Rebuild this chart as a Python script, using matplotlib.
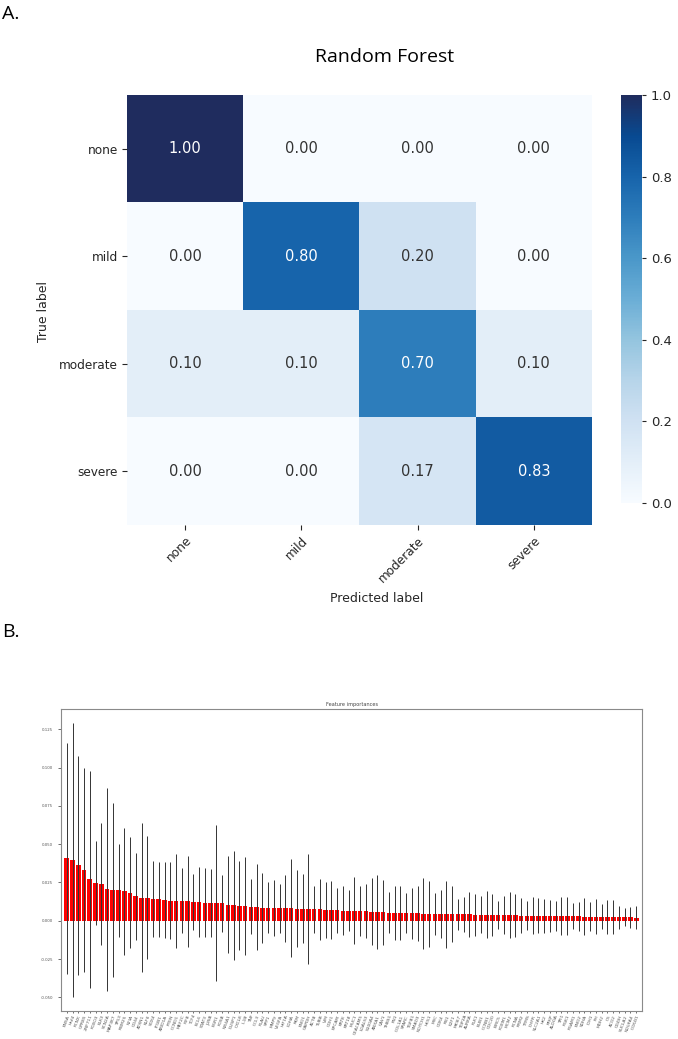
import numpy as np
import matplotlib
matplotlib.use("Agg")
import matplotlib.pyplot as plt
from matplotlib.colors import LinearSegmentedColormap

# panel A: confusion matrix
classes = ['none', 'mild', 'moderate', 'severe']
cm = np.array([
    [1.00, 0.00, 0.00, 0.00],
    [0.00, 0.80, 0.20, 0.00],
    [0.10, 0.10, 0.70, 0.10],
    [0.00, 0.00, 0.17, 0.83],
])

# panel B: feature importances (sorted) and their std over trees
importances = [
    0.0408, 0.0397, 0.0363, 0.0332, 0.0271, 0.0247, 0.0239, 0.0206, 0.0202, 0.0198,
    0.0193, 0.0182, 0.0159, 0.0150, 0.0150, 0.0143, 0.0139, 0.0135, 0.0130, 0.0130,
    0.0130, 0.0126, 0.0122, 0.0122, 0.0119, 0.0117, 0.0115, 0.0113, 0.0104, 0.0102,
    0.0098, 0.0096, 0.0091, 0.0089, 0.0085, 0.0085, 0.0083, 0.0083, 0.0081, 0.0081,
    0.0080, 0.0078, 0.0078, 0.0076, 0.0074, 0.0072, 0.0070, 0.0068, 0.0067, 0.0067,
    0.0066, 0.0065, 0.0065, 0.0059, 0.0057, 0.0055, 0.0052, 0.0052, 0.0050, 0.0050,
    0.0048, 0.0048, 0.0047, 0.0047, 0.0046, 0.0045, 0.0044, 0.0043, 0.0042, 0.0042,
    0.0041, 0.0040, 0.0040, 0.0039, 0.0038, 0.0038, 0.0037, 0.0036, 0.0035, 0.0034,
    0.0033, 0.0033, 0.0032, 0.0031, 0.0031, 0.0030, 0.0029, 0.0029, 0.0028, 0.0028,
    0.0027, 0.0027, 0.0026, 0.0025, 0.0025, 0.0024, 0.0023, 0.0022, 0.0022, 0.0021,
]
stds = [
    0.0753, 0.0897, 0.0716, 0.0667, 0.0710, 0.0274, 0.0397, 0.0664, 0.0569, 0.0301,
    0.0415, 0.0363, 0.0282, 0.0486, 0.0401, 0.0248, 0.0243, 0.0249, 0.0252, 0.0309,
    0.0213, 0.0297, 0.0184, 0.0228, 0.0226, 0.0222, 0.0508, 0.0185, 0.0317, 0.0356,
    0.0291, 0.0323, 0.0180, 0.0280, 0.0230, 0.0167, 0.0184, 0.0160, 0.0217, 0.0321,
    0.0250, 0.0226, 0.0358, 0.0154, 0.0197, 0.0184, 0.0188, 0.0145, 0.0157, 0.0133,
    0.0221, 0.0163, 0.0178, 0.0219, 0.0241, 0.0214, 0.0135, 0.0178, 0.0176, 0.0132,
    0.0165, 0.0180, 0.0231, 0.0216, 0.0136, 0.0155, 0.0219, 0.0183, 0.0101, 0.0114,
    0.0150, 0.0138, 0.0121, 0.0154, 0.0140, 0.0090, 0.0126, 0.0149, 0.0139, 0.0116,
    0.0095, 0.0119, 0.0114, 0.0110, 0.0104, 0.0098, 0.0125, 0.0123, 0.0085, 0.0092,
    0.0121, 0.0097, 0.0113, 0.0082, 0.0112, 0.0109, 0.0075, 0.0059, 0.0069, 0.0075,
]
features = [
    'ENSA', 'Hnf4', 'PCNX', 'GPR85', 'ZNF711', 'FOXO3', 'ELK3', 'SCN2A', 'MAP3K7', 'TP53',
    'RBM25', 'NFIA', 'CD44', 'ATXN1', 'KLF6', 'SOX4', 'ITGB1', 'ARID1A', 'PTEN', 'CCND1',
    'MEF2C', 'IRF8', 'TCF4', 'BCL6', 'STAT3', 'JUNB', 'EGR1', 'FOSB', 'NR4A1', 'DUSP1',
    'CXCL8', 'IL1B', 'TNF', 'CCL3', 'PLAU', 'SPP1', 'MMP9', 'VEGFA', 'HIF1A', 'LDHA',
    'PKM', 'ENO1', 'GAPDH', 'ACTB', 'TUBB', 'VIM', 'CDH1', 'EPCAM', 'KRT8', 'KRT18',
    'MUC1', 'CEACAM5', 'LGALS3', 'S100A4', 'ANXA1', 'CAV1', 'THBS1', 'FN1', 'COL1A1', 'SPARC',
    'TGFB1', 'SMAD3', 'NOTCH1', 'HES1', 'MYC', 'CDK4', 'RB1', 'E2F1', 'MKI67', 'TOP2A',
    'AURKA', 'PLK1', 'BUB1', 'CCNB1', 'CDC20', 'BIRC5', 'FOXM1', 'MCM2', 'PCNA', 'RRM2',
    'TYMS', 'DHFR', 'SLC2A1', 'HK2', 'PFKP', 'ALDOA', 'TPI1', 'PGK1', 'PGAM1', 'ENO2',
    'SDHA', 'IDH1', 'FH', 'MDH2', 'CS', 'ACO2', 'OGDH', 'SUCLA2', 'NDUFA4', 'COX4I1',
]

fig = plt.figure(figsize=(6.78, 10.39), dpi=100)
W, H = 678.0, 1039.0


def box(x0, y0, x1, y1):
    # pixel box (top-left origin) -> figure fraction rect
    return [x0 / W, 1 - y1 / H, (x1 - x0) / W, (y1 - y0) / H]


# Blues with a slightly darker, greyer navy at the top end
blues = plt.get_cmap('Blues')
stops = [blues(t) for t in np.linspace(0, 0.9, 10)] + ['#1f2c5e']
cmap = LinearSegmentedColormap.from_list('blues_navy', stops)

label_font = ['Open Sans', 'DejaVu Sans']
fig.text(2 / W, 1 - 14 / H, 'A.', fontsize=14, family=label_font, va='center', ha='left')
fig.text(2 / W, 1 - 632 / H, 'B.', fontsize=14, family=label_font, va='center', ha='left')

# ---- A. confusion matrix ----
ax = fig.add_axes(box(127, 95, 592, 525))
im = ax.imshow(cm, cmap=cmap, vmin=0, vmax=1, aspect='auto')
for s in ax.spines.values():
    s.set_visible(False)
for i in range(len(classes)):
    for j in range(len(classes)):
        v = cm[i, j]
        ax.text(j, i, f'{v:.2f}', ha='center', va='center', fontsize=10.5,
                color='white' if v > 0.5 else '#333333')
ax.set_xticks(range(len(classes)))
ax.set_yticks(range(len(classes)))
ax.set_xticklabels(classes, rotation=45, ha='right', rotation_mode='anchor', fontsize=8.7,
                   color='#262626')
ax.set_yticklabels(classes, fontsize=8.7, color='#262626')
ax.tick_params(length=3.5, width=0.8, color='#262626', pad=3)
fig.text(377 / W, 1 - 598 / H, 'Predicted label', ha='center', va='center', fontsize=9,
         color='#262626')
fig.text(43 / W, 1 - 311 / H, 'True label', ha='center', va='center', fontsize=9,
         rotation=90, color='#262626')
fig.text(385 / W, 1 - 57 / H, 'Random Forest', ha='center', va='center', fontsize=14,
         family=label_font)

cax = fig.add_axes(box(621, 95, 642, 503))
cb = fig.colorbar(im, cax=cax, ticks=[0, 0.2, 0.4, 0.6, 0.8, 1.0])
cb.outline.set_visible(False)
cax.tick_params(labelsize=9.5, length=3, width=0.8, color='#262626', labelcolor='#262626')

# ---- B. feature importances ----
bx = fig.add_axes(box(61, 709, 642, 1011))
n = len(importances)
bx.bar(range(n), importances, color='r', yerr=stds, align='center',
       error_kw=dict(ecolor='#333333', elinewidth=0.7, capsize=0))
bx.set_xticks(range(n))
bx.set_xticklabels(features, rotation=70, ha='right', rotation_mode='anchor', fontsize=3.2,
                   color='#555555')
bx.set_xlim(-1, n)
bx.set_yticks([-0.050, -0.025, 0.0, 0.025, 0.050, 0.075, 0.100, 0.125])
bx.yaxis.set_major_formatter(matplotlib.ticker.FormatStrFormatter('%.3f'))
bx.tick_params(axis='y', labelsize=2.8, labelcolor='#555555', length=2, width=0.4)
bx.tick_params(axis='x', length=1.5, width=0.4, pad=1)
for s in bx.spines.values():
    s.set_color('#8a8a8a')
    s.set_linewidth(0.8)
bx.set_title('Feature importances', fontsize=3.6, color='#444444', pad=2)

fig.savefig('out.png', dpi=100)
